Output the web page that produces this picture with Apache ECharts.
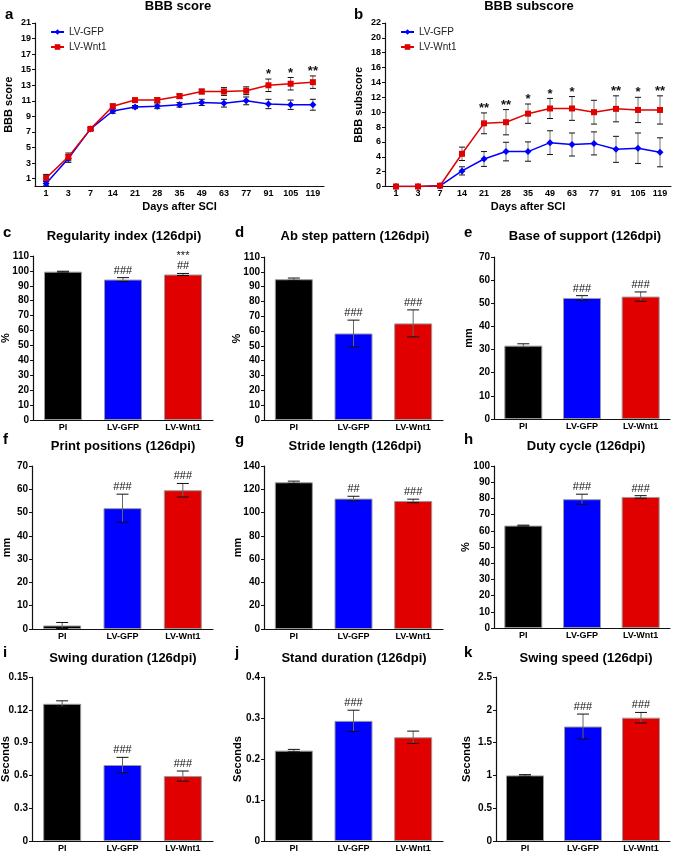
<!DOCTYPE html>
<html><head><meta charset="utf-8">
<script src="https://cdn.jsdelivr.net/npm/echarts@6/dist/echarts.min.js"></script>
<style>html,body{margin:0;padding:0;background:#fff}#c{width:677px;height:851px}</style>
</head><body><div id="c"></div>
<script>
// ---------- DATA ----------
const days = ['1','3','7','14','21','28','35','49','63','77','91','105','119'];
const bbbGFP     = [0.4,3.6,7.4,9.7,10.2,10.3,10.5,10.8,10.7,11.0,10.6,10.5,10.5];
const bbbGFPErr  = [0.3,0.5,0.2,0.3,0.2,0.3,0.3,0.4,0.5,0.5,0.6,0.6,0.7];
const bbbWnt1    = [1.1,3.8,7.4,10.3,11.1,11.1,11.6,12.2,12.2,12.3,13.0,13.2,13.4];
const bbbWnt1Err = [0.45,0.5,0.2,0.3,0.2,0.3,0.3,0.3,0.5,0.5,0.8,0.8,0.8];
const bbbStars   = ['','','','','','','','','','','*','*','**'];
const bbbTicks   = [1,3,5,7,9,11,13,15,17,19,21];

const subGFP     = [0,0,0.1,2.1,3.7,4.7,4.7,5.9,5.65,5.8,5.0,5.15,4.6];
const subGFPErr  = [0,0,0,0.55,1.0,1.25,1.3,1.6,1.55,1.55,1.75,2.05,1.95];
const subWnt1    = [0,0,0.1,4.4,8.5,8.65,9.8,10.5,10.5,10.0,10.45,10.3,10.3];
const subWnt1Err = [0,0,0,0.9,1.4,1.7,1.3,1.35,1.6,1.6,1.75,1.7,1.9];
const subStars   = ['','','','','**','**','*','*','*','','**','*','**'];

const groups = ['PI','LV-GFP','LV-Wnt1'];
const regIdx = [99.5,94.2,97.6];        const regIdxErr = [0.3,1.3,0.7];       const regIdxMarks = ['','###','***\n##'];
const abStep = [95.0,58.4,65.2];        const abStepErr = [0.8,9.0,9.1];       const abStepMarks = ['','###','###'];
const baseSup = [31.7,52.3,52.9];       const baseSupErr = [0.8,1.0,2.0];      const baseSupMarks = ['','###','###'];
const printPos = [1.5,51.9,59.6];       const printPosErr = [1.3,6.0,2.9];     const printPosMarks = ['','###','###'];
const stride = [126,112,110];           const strideErr = [1.0,2.0,1.5];       const strideMarks = ['','##','###'];
const duty = [63.2,79.5,80.9];          const dutyErr = [0.3,3.1,0.8];         const dutyMarks = ['','###','###'];
const swingDur = [0.1255,0.0695,0.0594];const swingDurErr = [0.0027,0.007,0.0046]; const swingDurMarks = ['','###','###'];
const swingDurTicks = ['0','0.3','0.6','0.9','0.12','0.15'];
const standDur = [0.2204,0.293,0.253];  const standDurErr = [0.003,0.026,0.015]; const standDurMarks = ['','###',''];
const swingSpd = [1.0,1.745,1.88];      const swingSpdErr = [0.012,0.19,0.08]; const swingSpdMarks = ['','###','###'];

// ---------- LAYOUT / STYLE ----------
const FONT = 'Liberation Sans, Arial, sans-serif';
const BLUE = '#0000ff', RED = '#e00000';
const barColors = ['#000000', BLUE, RED];

const chart = echarts.init(document.getElementById('c'));
const grids = [], xAxes = [], yAxes = [], series = [], titles = [], graphics = [];

function errorSeries(gi, vals, errs, marks, o) {
  return {
    type: 'custom', xAxisIndex: gi, yAxisIndex: gi, z: o.z || 5, clip: false, silent: true,
    data: vals.map((v, i) => [i, v, errs[i]]),
    renderItem: function (params, api) {
      const i = api.value(0), v = api.value(1), e = api.value(2);
      const p0 = api.coord([i, v - e]), p1 = api.coord([i, v + e]);
      const ch = [];
      if (e > 0) {
        ch.push({type:'line', shape:{x1:p0[0],y1:p0[1],x2:p1[0],y2:p1[1]}, style:{stroke:o.stem, lineWidth:1}});
        ch.push({type:'line', shape:{x1:p1[0]-o.cap,y1:p1[1],x2:p1[0]+o.cap,y2:p1[1]}, style:{stroke:'#111', lineWidth:1}});
        ch.push({type:'line', shape:{x1:p0[0]-o.cap,y1:p0[1],x2:p0[0]+o.cap,y2:p0[1]}, style:{stroke:'#111', lineWidth:1}});
      }
      const m = marks[params.dataIndex];
      if (m) ch.push({type:'text', x:p1[0], y:p1[1] + o.markDy,
        style:{text:m, font:o.markFont, fill:'#111', align:'center', verticalAlign:'bottom', lineHeight:o.lh}});
      return {type:'group', children: ch};
    }
  };
}

function addLetter(t, x, y) {
  graphics.push({type:'text', left:x, top:y, style:{text:t, font:'bold 15px ' + FONT, fill:'#000'}});
}
function addTitle(t, cx, ty) {
  titles.push({text:t, left:cx, top:ty, textAlign:'center', padding:0,
    textStyle:{fontFamily:FONT, fontWeight:'bold', fontSize:13, color:'#000'}});
}

// ----- Line panels -----
const linePanels = [
  {letter:'a', lx:5, ly:7, title:'BBB score', tx:178, yName:'BBB score', left:35, top:23, width:289, height:163.5,
   max:21, ticks:bbbTicks, gfp:bbbGFP, gfpE:bbbGFPErr, wnt:bbbWnt1, wntE:bbbWnt1Err, stars:bbbStars, nameGap:20.5},
  {letter:'b', lx:354, ly:7, title:'BBB subscore', tx:529, yName:'BBB subscore', left:385, top:23, width:286, height:163.5,
   max:22, interval:2, gfp:subGFP, gfpE:subGFPErr, wnt:subWnt1, wntE:subWnt1Err, stars:subStars, nameGap:20.5}
];
const legends = [];
linePanels.forEach(p => {
  const gi = grids.length;
  grids.push({left:p.left, top:p.top, width:p.width, height:p.height, containLabel:false, outerBoundsMode:'none'});
  xAxes.push({gridIndex:gi, type:'category', data:days, boundaryGap:true,
    name:'Days after SCI', nameLocation:'middle', nameGap:15, nameMoveOverlap:false,
    nameTextStyle:{fontFamily:FONT, fontWeight:'bold', fontSize:11, color:'#000'},
    axisLine:{lineStyle:{color:'#111', width:1.2}}, axisTick:{alignWithLabel:true, length:3, lineStyle:{color:'#111'}},
    axisLabel:{interval:0, fontFamily:FONT, fontWeight:'bold', fontSize:9, color:'#000', margin:3}});
  const ya = {gridIndex:gi, type:'value', min:0, max:p.max,
    name:p.yName, nameLocation:'middle', nameGap:p.nameGap, nameRotate:90, nameMoveOverlap:false,
    nameTextStyle:{fontFamily:FONT, fontWeight:'bold', fontSize:11, color:'#000'},
    splitLine:{show:false},
    axisLine:{show:true, lineStyle:{color:'#111', width:1.2}}, axisTick:{show:true, length:3, lineStyle:{color:'#111'}},
    axisLabel:{fontFamily:FONT, fontWeight:'bold', fontSize:9, color:'#000', margin:4}};
  if (p.ticks) { ya.axisLabel.customValues = p.ticks; ya.axisTick.customValues = p.ticks; }
  else ya.interval = p.interval;
  yAxes.push(ya);
  const eo = {stem:'#777', cap:3, markDy:2, markFont:'bold 13px ' + FONT, lh:13, z:2};
  series.push(errorSeries(gi, p.gfp, p.gfpE, [], eo));
  series.push(errorSeries(gi, p.wnt, p.wntE, p.stars, eo));
  series.push({type:'line', name:'LV-GFP', xAxisIndex:gi, yAxisIndex:gi, data:p.gfp, z:3,
    symbol:'diamond', symbolSize:7, lineStyle:{color:BLUE, width:1.5}, itemStyle:{color:BLUE}});
  series.push({type:'line', name:'LV-Wnt1', xAxisIndex:gi, yAxisIndex:gi, data:p.wnt, z:4,
    symbol:'rect', symbolSize:6, lineStyle:{color:RED, width:1.5}, itemStyle:{color:RED}});
  legends.push({left:p.left + 10, top:22, orient:'vertical', itemWidth:13, itemHeight:7, itemGap:5,
    data:['LV-GFP','LV-Wnt1'], textStyle:{fontFamily:FONT, fontSize:10, color:'#222'}});
  addTitle(p.title, p.tx, 0);
  addLetter(p.letter, p.lx, p.ly);
});

// ----- Bar panels -----
const barPanels = [
  {letter:'c', lx:3,   ly:225, title:'Regularity index (126dpi)', tx:124, ty:230, yName:'%', vals:regIdx, errs:regIdxErr, marks:regIdxMarks, max:110, interval:10, left:33, top:256, width:180, height:164, nameGap:22},
  {letter:'d', lx:235, ly:225, title:'Ab step pattern (126dpi)',  tx:355, ty:230, yName:'%', vals:abStep, errs:abStepErr, marks:abStepMarks, max:110, interval:10, left:264, top:257, width:179, height:163, nameGap:22},
  {letter:'e', lx:464, ly:225, title:'Base of support (126dpi)',  tx:585, ty:230, yName:'mm', vals:baseSup, errs:baseSupErr, marks:baseSupMarks, max:70, interval:10, left:494, top:257, width:176, height:162, nameGap:20},
  {letter:'f', lx:3,   ly:432, title:'Print positions (126dpi)',  tx:123, ty:440, yName:'mm', vals:printPos, errs:printPosErr, marks:printPosMarks, max:70, interval:10, left:32, top:466, width:181, height:163, nameGap:19.5},
  {letter:'g', lx:235, ly:432, title:'Stride length (126dpi)',    tx:355, ty:440, yName:'mm', vals:stride, errs:strideErr, marks:strideMarks, max:140, interval:20, left:264, top:466, width:179, height:163, nameGap:21},
  {letter:'h', lx:464, ly:432, title:'Duty cycle (126dpi)',       tx:586, ty:440, yName:'%', vals:duty, errs:dutyErr, marks:dutyMarks, max:100, interval:10, left:494, top:466, width:176, height:162, nameGap:22.5},
  {letter:'i', lx:3,   ly:645, title:'Swing duration (126dpi)',   tx:123, ty:652, yName:'Seconds', vals:swingDur, errs:swingDurErr, marks:swingDurMarks, max:0.15, interval:0.03, left:32, top:677, width:181, height:164, nameGap:21, tickLabels:swingDurTicks},
  {letter:'j', lx:235, ly:645, title:'Stand duration (126dpi)',   tx:354, ty:652, yName:'Seconds', vals:standDur, errs:standDurErr, marks:standDurMarks, max:0.4, interval:0.1, left:264, top:677, width:179, height:164, nameGap:21},
  {letter:'k', lx:464, ly:645, title:'Swing speed (126dpi)',      tx:586, ty:652, yName:'Seconds', vals:swingSpd, errs:swingSpdErr, marks:swingSpdMarks, max:2.5, interval:0.5, left:496, top:677, width:174, height:164, nameGap:24}
];
barPanels.forEach(p => {
  const gi = grids.length;
  grids.push({left:p.left, top:p.top, width:p.width, height:p.height, containLabel:false, outerBoundsMode:'none'});
  xAxes.push({gridIndex:gi, type:'category', data:groups,
    axisLine:{lineStyle:{color:'#111', width:1.2}}, axisTick:{length:3, lineStyle:{color:'#111'}},
    axisLabel:{interval:0, fontFamily:FONT, fontWeight:'bold', fontSize:9, color:'#000', margin:3}});
  const ya = {gridIndex:gi, type:'value', min:0, max:p.max, interval:p.interval,
    name:p.yName, nameLocation:'middle', nameGap:p.nameGap, nameRotate:90, nameMoveOverlap:false,
    nameTextStyle:{fontFamily:FONT, fontWeight:'bold', fontSize:11, color:'#000'},
    splitLine:{show:false},
    axisLine:{show:true, lineStyle:{color:'#111', width:1.2}}, axisTick:{show:true, length:3, lineStyle:{color:'#111'}},
    axisLabel:{fontFamily:FONT, fontWeight:'bold', fontSize:10, color:'#000', margin:4}};
  if (p.tickLabels) {
    const tl = p.tickLabels, step = p.interval;
    ya.axisLabel.formatter = v => tl[Math.round(v / step)];
  }
  yAxes.push(ya);
  series.push({type:'bar', xAxisIndex:gi, yAxisIndex:gi, barWidth:38, z:2,
    data:p.vals.map((v, i) => ({value:v, itemStyle:{color:barColors[i], borderColor:'#9a9a9a', borderWidth:1}}))});
  series.push(errorSeries(gi, p.vals, p.errs, p.marks,
    {stem:'#666', cap:6, markDy:-2, markFont:'11px ' + FONT, lh:10, z:5}));
  addTitle(p.title, p.tx, p.ty);
  addLetter(p.letter, p.lx, p.ly);
});

chart.setOption({
  animation:false,
  textStyle:{fontFamily:FONT},
  title:titles, legend:legends, grid:grids, xAxis:xAxes, yAxis:yAxes, series:series,
  graphic:graphics
});
</script></body></html>
